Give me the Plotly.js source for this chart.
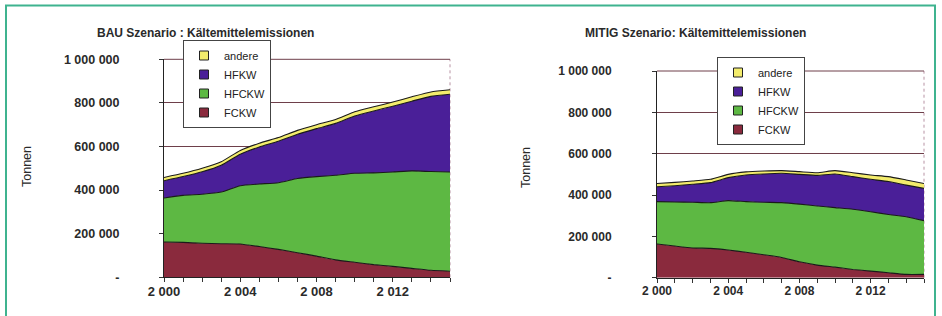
<!DOCTYPE html>
<html>
<head>
<meta charset="utf-8">
<script src="https://cdn.plot.ly/plotly-3.0.1.min.js"></script>
<style>html,body{margin:0;padding:0;background:#fff;}#chart{width:942px;height:316px;}</style>
</head>
<body>
<div id="chart"></div>
<script>
// ---- data (tonnes) ----
var years = [2000,2001,2002,2003,2004,2005,2006,2007,2008,2009,2010,2011,2012,2013,2014,2015];
var seriesNames = ["FCKW","HFCKW","HFKW","andere"];
var legendOrder = ["andere","HFKW","HFCKW","FCKW"];

var bauFCKW   = [162000,160000,156000,154000,153000,141000,128000,113000,97000,80000,69000,58000,50000,41000,32000,28000];
var bauHFCKW  = [202000,216000,225000,237000,267000,287000,306000,340000,365000,388000,408000,421000,433000,447000,453000,455000];
var bauHFKW   = [79000,86000,103000,123000,145000,170000,190000,203000,220000,238000,263000,284000,302000,320000,345000,357000];
var bauAndere = [15000,15000,16000,16000,17000,17000,17000,18000,18000,18000,19000,19000,19000,20000,20000,20000];

var mitFCKW   = [163000,153000,144000,142000,134000,123000,111000,98000,77000,61000,51000,40000,32000,24000,16000,16000];
var mitHFCKW  = [205000,213000,221000,221000,239000,245000,254000,265000,279000,286000,288000,291000,287000,282000,279000,260000];
var mitHFKW   = [72000,79000,87000,97000,111000,129000,137000,142000,144000,148000,163000,158000,157000,159000,153000,156000];
var mitAndere = [16000,16000,16000,16000,16000,15000,14000,13000,13000,13000,16000,19000,21000,24000,25000,24000];

var yTickVals = [0,200000,400000,600000,800000,1000000];
var yTickText = ["-","200 000","400 000","600 000","800 000","1 000 000"];
var xTickVals = years;
var xTickText = ["2 000","","","","2 004","","","","2 008","","","","2 012","","",""];

var titles = ["BAU Szenario : Kältemittelemissionen","MITIG Szenario: Kältemittelemissionen"];
var yTitle = "Tonnen";

// ---- styles ----
var colors = {FCKW:"#8a2a3d", HFCKW:"#5db843", HFKW:"#4a1f98", andere:"#f3ec6c"};
var GRID = "#6e3f4a";
var FONT = "Liberation Sans, Arial, sans-serif";
var W = 942, H = 316;
function px(x){return x/W;}
function py(y){return 1 - y/H;}

var bau = {FCKW:bauFCKW, HFCKW:bauHFCKW, HFKW:bauHFKW, andere:bauAndere};
var mit = {FCKW:mitFCKW, HFCKW:mitHFCKW, HFKW:mitHFKW, andere:mitAndere};

var traces = [];
function addArea(data, xa, ya, sg){
  seriesNames.forEach(function(n){
    traces.push({
      type:"scatter", mode:"lines", x:years, y:data[n], name:n,
      xaxis:xa, yaxis:ya, stackgroup:sg,
      line:{color:"#1a1a1a", width:1.1, shape:"spline", smoothing:0.5},
      fillcolor:colors[n], showlegend:false, hoverinfo:"x+y+name"
    });
  });
}
addArea(bau, "x", "y", "bau");
addArea(mit, "x2", "y2", "mit");

function addLegend(xa, ya, lg){
  legendOrder.forEach(function(n){
    traces.push({
      type:"scatter", mode:"markers", x:[null], y:[null], name:n,
      xaxis:xa, yaxis:ya, legend:lg, showlegend:true,
      marker:{symbol:"square", size:9, color:colors[n], line:{color:"#222", width:1}}
    });
  });
}
addLegend("x","y","legend");
addLegend("x2","y2","legend2");

function yax(domain, fs, standoff, anchor){
  return {
    domain:domain, range:[0,1000000], fixedrange:true, anchor:anchor,
    tickvals:yTickVals, ticktext:yTickText,
    tickfont:{family:FONT, size:fs, color:"#2a2a2a", weight:"bold"},
    ticks:"outside", ticklen:4, tickcolor:"#333",
    ticklabelstandoff:standoff,
    showgrid:true, gridcolor:GRID, gridwidth:1,
    showline:true, linecolor:"#222", linewidth:1,
    zeroline:false, automargin:false
  };
}
function xax(domain, fs, anchor){
  return {
    domain:domain, range:[2000,2015], anchor:anchor,
    tickvals:xTickVals, ticktext:xTickText,
    tickfont:{family:FONT, size:fs, color:"#2a2a2a", weight:"bold"},
    ticks:"outside", ticklen:4, tickcolor:"#333",
    ticklabelstandoff:-2,
    showgrid:false, showline:true, linecolor:"#222", linewidth:1,
    zeroline:false, automargin:false
  };
}

var legendStyle = function(x, y){
  return {x:x, y:y, xanchor:"left", yanchor:"top", xref:"paper", yref:"paper",
    bgcolor:"#ffffff", bordercolor:"#444", borderwidth:1,
    font:{family:FONT, size:11, color:"#222"}, traceorder:"normal",
    itemwidth:30, tracegroupgap:0};
};

var layout = {
  width:W, height:H, margin:{l:0,r:0,t:0,b:0},
  paper_bgcolor:"#ffffff", plot_bgcolor:"#ffffff",
  showlegend:true,
  xaxis: xax([px(164), px(450)], 13, "y"),
  yaxis: yax([py(277.3), py(59.3)], 12.5, 37, "x"),
  xaxis2: xax([px(657), px(924)], 12, "y2"),
  yaxis2: yax([py(277.7), py(71)], 12, 38, "x2"),
  legend: legendStyle(px(183), py(40)),
  legend2: legendStyle(px(717), py(57)),
  annotations:[
    {text:titles[0], xref:"paper", yref:"paper", x:px(205), y:py(33), xanchor:"center", yanchor:"middle", showarrow:false,
     font:{family:FONT, size:12, color:"#2a2a2a", weight:"bold"}},
    {text:titles[1], xref:"paper", yref:"paper", x:px(695), y:py(33), xanchor:"center", yanchor:"middle", showarrow:false,
     font:{family:FONT, size:12, color:"#2a2a2a", weight:"bold"}},
    {text:yTitle, xref:"paper", yref:"paper", x:px(27), y:py(167), xanchor:"center", yanchor:"middle", textangle:-90, showarrow:false,
     font:{family:FONT, size:12.5, color:"#2a2a2a"}},
    {text:yTitle, xref:"paper", yref:"paper", x:px(526), y:py(168), xanchor:"center", yanchor:"middle", textangle:-90, showarrow:false,
     font:{family:FONT, size:12.5, color:"#2a2a2a"}}
  ],
  shapes:[
    {type:"rect", xref:"paper", yref:"paper", x0:px(6), x1:px(935), y0:-0.05, y1:py(5.5),
     line:{color:"#3fb38f", width:2}, fillcolor:"rgba(0,0,0,0)", layer:"above"},
    {type:"line", xref:"x domain", yref:"y domain", x0:1, x1:1, y0:0, y1:1, layer:"below",
     line:{color:"#b893a4", width:1, dash:"dot"}},
    {type:"line", xref:"x2 domain", yref:"y2 domain", x0:1, x1:1, y0:0, y1:1, layer:"below",
     line:{color:"#b893a4", width:1, dash:"dot"}},
    {type:"line", xref:"x domain", yref:"y domain", x0:0, x1:1, y0:1, y1:1, layer:"below",
     line:{color:GRID, width:1}},
    {type:"line", xref:"x2 domain", yref:"y2 domain", x0:0, x1:1, y0:1, y1:1, layer:"below",
     line:{color:GRID, width:1}}
  ]
};

Plotly.newPlot("chart", traces, layout, {displayModeBar:false, staticPlot:true});
</script>
</body>
</html>
